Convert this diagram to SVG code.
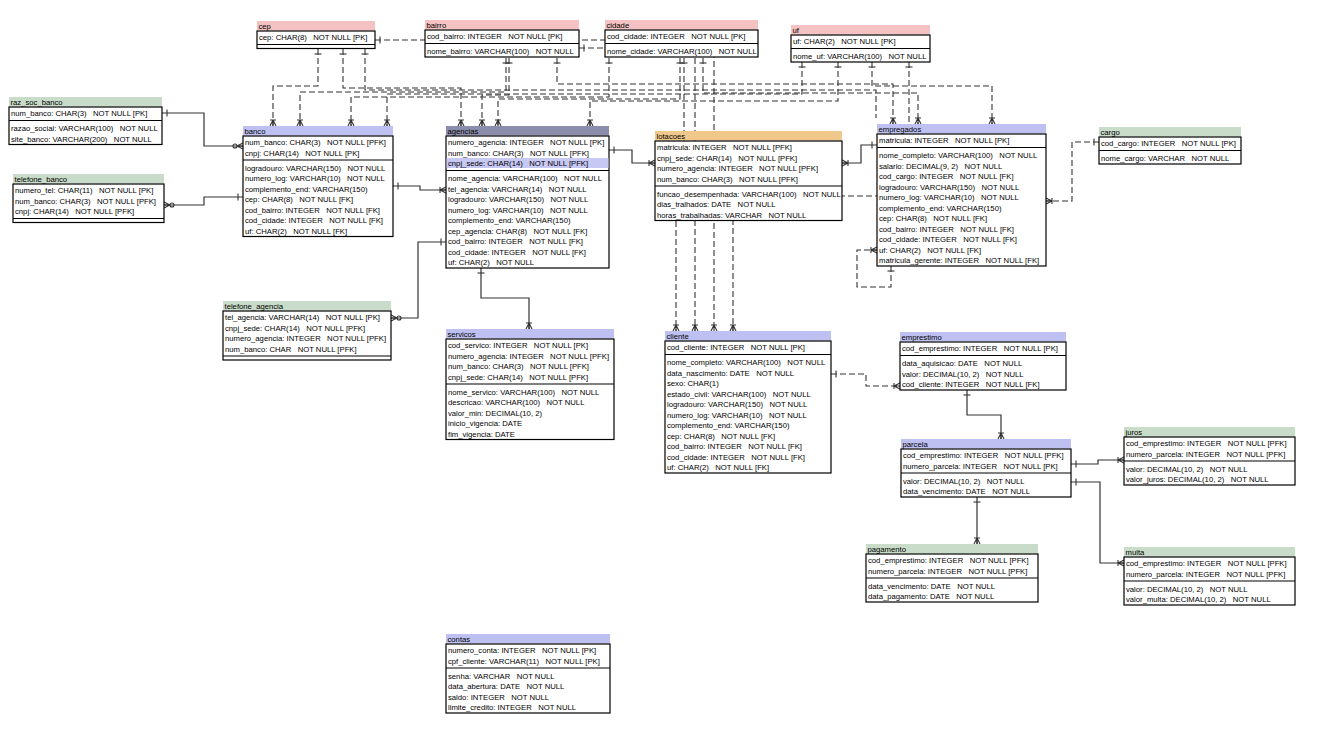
<svg xmlns="http://www.w3.org/2000/svg" width="1331" height="736" viewBox="0 0 1331 736">
<style>
text { font-family: "Liberation Sans", Arial, sans-serif; font-size: 7.7px; fill: #000; white-space: pre; }
.box { fill: #fff; stroke: #000; stroke-width: 1.2; }
.sep { stroke: #000; stroke-width: 1.2; }
.hp { fill: #f4c2c2; }
.hg { fill: #c9dcc9; }
.hl { fill: #bfc0f2; }
.hd { fill: #8c8cac; }
.ho { fill: #f0c88c; }
.hi { fill: #c8c8f5; }
.sl { fill: none; stroke: #333; stroke-width: 1.2; }
.dl { fill: none; stroke: #333; stroke-width: 1.1; stroke-dasharray: 6 3; }
.mk { fill: none; stroke: #333; stroke-width: 1.1; }
</style>
<defs>
<marker id="one" markerUnits="userSpaceOnUse" markerWidth="20" markerHeight="20" refX="0" refY="0" orient="auto" viewBox="-10 -10 20 20" overflow="visible">
<path class="mk" d="M5,-3.5 V3.5"/>
</marker>
<marker id="crow" markerUnits="userSpaceOnUse" markerWidth="20" markerHeight="20" refX="0" refY="0" orient="auto" viewBox="-10 -10 20 20" overflow="visible">
<path class="mk" d="M-6,0 L0,-3 M-6,0 L0,0 M-6,0 L0,3 M-6,-3 V3"/>
</marker>
<marker id="crowz" markerUnits="userSpaceOnUse" markerWidth="20" markerHeight="20" refX="0" refY="0" orient="auto" viewBox="-10 -10 20 20" overflow="visible">
<path class="mk" d="M-6,0 L0,-3 M-6,0 L0,0 M-6,0 L0,3"/>
<circle class="mk" cx="-8" cy="0" r="2"/>
</marker>
</defs>

<g id="connectors">
<path class="sl" d="M162,113 H204 V146 H243" marker-start="url(#one)" marker-end="url(#crowz)"/>
<path class="sl" d="M243,197 H204 V205 H164" marker-start="url(#one)" marker-end="url(#crowz)"/>
<path class="sl" d="M393,186 H420 V190 H446" marker-start="url(#one)" marker-end="url(#crow)"/>
<path class="sl" d="M446,242 H418 V318 H391" marker-start="url(#one)" marker-end="url(#crowz)"/>
<path class="sl" d="M481,268 V298 H529 V329" marker-start="url(#one)" marker-end="url(#crow)"/>
<path class="sl" d="M609,150 H632 V163 H655" marker-start="url(#one)" marker-end="url(#crow)"/>
<path class="sl" d="M877,145 H861 V163 H842" marker-start="url(#one)" marker-end="url(#crow)"/>
<path class="sl" d="M967,390 V415 H1001 V439" marker-start="url(#one)" marker-end="url(#crow)"/>
<path class="sl" d="M1071,464 H1098 V460 H1124" marker-start="url(#one)" marker-end="url(#crow)"/>
<path class="sl" d="M1071,482 H1100 V563 H1124" marker-start="url(#one)" marker-end="url(#crow)"/>
<path class="sl" d="M977,497 V544" marker-start="url(#one)" marker-end="url(#crow)"/>

<path class="dl" d="M1099,142 H1072 V201 H1046" marker-start="url(#one)" marker-end="url(#crow)"/>
<path class="dl" d="M891,266 V287 H857 V250 H877" marker-start="url(#one)" marker-end="url(#crow)"/>
<path class="dl" d="M831,374 H866 V386 H900" marker-start="url(#one)" marker-end="url(#crow)"/>

<path class="dl" d="M318,49 V86 H273 V126" marker-start="url(#one)" marker-end="url(#crow)"/>
<path class="dl" d="M343,49 V88 H461 V126" marker-start="url(#one)" marker-end="url(#crow)"/>
<path class="dl" d="M365,49 V90 H876 V118" marker-start="url(#one)"/>
<path class="dl" d="M375,40 H714 V331" marker-start="url(#one)" marker-end="url(#crow)"/>
<path class="dl" d="M506,58 V92 H300 V126" marker-start="url(#one)" marker-end="url(#crow)"/>
<path class="dl" d="M509,58 V95 H482 V126" marker-start="url(#one)" marker-end="url(#crow)"/>
<path class="dl" d="M557,58 V84 H893 V124" marker-start="url(#one)" marker-end="url(#crow)"/>
<path class="dl" d="M579,48 H695 V331" marker-start="url(#one)" marker-end="url(#crow)"/>
<path class="dl" d="M609,58 V97 H351 V126" marker-start="url(#one)" marker-end="url(#crow)"/>
<path class="dl" d="M680,58 V99 H498 V126" marker-start="url(#one)" marker-end="url(#crow)"/>
<path class="dl" d="M684,58 V200 H676 V331" marker-start="url(#one)" marker-end="url(#crow)"/>
<path class="dl" d="M703,58 V93 H918 V124" marker-start="url(#one)" marker-end="url(#crow)"/>
<path class="dl" d="M802,62 V94 H387 V126" marker-start="url(#one)" marker-end="url(#crow)"/>
<path class="dl" d="M838,62 V101 H590 V126" marker-start="url(#one)" marker-end="url(#crow)"/>
<path class="dl" d="M872,62 V86 H992 V124" marker-start="url(#one)" marker-end="url(#crow)"/>
<path class="dl" d="M909,62 V196 H733 V331" marker-start="url(#one)" marker-end="url(#crow)"/>
</g>

<g id="cep">
<rect class="hp" x="257" y="21" width="118" height="9.5"/>
<text x="258.5" y="28.5">cep</text>
<rect class="box" x="257" y="31" width="118" height="17.5"/>
<text x="259" y="40">cep: CHAR(8)   NOT NULL [PK]</text>
<line class="sep" x1="257" y1="44.5" x2="375" y2="44.5"/>
</g>

<g id="bairro">
<rect class="hp" x="425" y="20" width="154" height="9.5"/>
<text x="426.5" y="27.5">bairro</text>
<rect class="box" x="425" y="30" width="154" height="27"/>
<text x="427" y="39">cod_bairro: INTEGER   NOT NULL [PK]</text>
<line class="sep" x1="425" y1="43.5" x2="579" y2="43.5"/>
<text x="427" y="54">nome_bairro: VARCHAR(100)   NOT NULL</text>
</g>

<g id="cidade">
<rect class="hp" x="605" y="20" width="153" height="9.5"/>
<text x="606.5" y="27.5">cidade</text>
<rect class="box" x="605" y="30" width="153" height="27"/>
<text x="607" y="39">cod_cidade: INTEGER   NOT NULL [PK]</text>
<line class="sep" x1="605" y1="43.5" x2="758" y2="43.5"/>
<text x="607" y="54">nome_cidade: VARCHAR(100)   NOT NULL</text>
</g>

<g id="uf">
<rect class="hp" x="791" y="25" width="139" height="9.5"/>
<text x="792.5" y="32.5">uf</text>
<rect class="box" x="791" y="35" width="139" height="27"/>
<text x="793" y="44">uf: CHAR(2)   NOT NULL [PK]</text>
<line class="sep" x1="791" y1="48.5" x2="930" y2="48.5"/>
<text x="793" y="59">nome_uf: VARCHAR(100)   NOT NULL</text>
</g>

<g id="raz_soc_banco">
<rect class="hg" x="9" y="97" width="153" height="9.5"/>
<text x="10.5" y="104.5">raz_soc_banco</text>
<rect class="box" x="9" y="107" width="153" height="37.5"/>
<text x="11" y="116">num_banco: CHAR(3)   NOT NULL [PK]</text>
<line class="sep" x1="9" y1="120.5" x2="162" y2="120.5"/>
<text x="11" y="131">razao_social: VARCHAR(100)   NOT NULL</text>
<text x="11" y="141.5">site_banco: VARCHAR(200)   NOT NULL</text>
</g>

<g id="telefone_banco">
<rect class="hg" x="13" y="174" width="151" height="9.5"/>
<text x="14.5" y="181.5">telefone_banco</text>
<rect class="box" x="13" y="184" width="151" height="38.5"/>
<text x="15" y="193">numero_tel: CHAR(11)   NOT NULL [PK]</text>
<text x="15" y="203.5">num_banco: CHAR(3)   NOT NULL [PFK]</text>
<text x="15" y="214">cnpj: CHAR(14)   NOT NULL [PFK]</text>
<line class="sep" x1="13" y1="218.5" x2="164" y2="218.5"/>
</g>

<g id="banco">
<rect class="hl" x="243" y="126" width="150" height="9.5"/>
<text x="244.5" y="133.5">banco</text>
<rect class="box" x="243" y="136" width="150" height="100.5"/>
<text x="245" y="145">num_banco: CHAR(3)   NOT NULL [PFK]</text>
<text x="245" y="155.5">cnpj: CHAR(14)   NOT NULL [PK]</text>
<line class="sep" x1="243" y1="160" x2="393" y2="160"/>
<text x="245" y="170.5">logradouro: VARCHAR(150)   NOT NULL</text>
<text x="245" y="181">numero_log: VARCHAR(10)   NOT NULL</text>
<text x="245" y="191.5">complemento_end: VARCHAR(150)</text>
<text x="245" y="202">cep: CHAR(8)   NOT NULL [FK]</text>
<text x="245" y="212.5">cod_bairro: INTEGER   NOT NULL [FK]</text>
<text x="245" y="223">cod_cidade: INTEGER   NOT NULL [FK]</text>
<text x="245" y="233.5">uf: CHAR(2)   NOT NULL [FK]</text>
</g>

<g id="agencias">
<rect class="hd" x="446" y="126" width="163" height="9.5"/>
<text x="447.5" y="133.5">agencias</text>
<rect class="box" x="446" y="136" width="163" height="132"/>
<rect class="hi" x="446.6" y="158" width="161.8" height="10"/>
<text x="448" y="145">numero_agencia: INTEGER   NOT NULL [PK]</text>
<text x="448" y="155.5">num_banco: CHAR(3)   NOT NULL [PFK]</text>
<text x="448" y="166">cnpj_sede: CHAR(14)   NOT NULL [PFK]</text>
<line class="sep" x1="446" y1="170.5" x2="609" y2="170.5"/>
<text x="448" y="181">nome_agencia: VARCHAR(100)   NOT NULL</text>
<text x="448" y="191.5">tel_agencia: VARCHAR(14)   NOT NULL</text>
<text x="448" y="202">logradouro: VARCHAR(150)   NOT NULL</text>
<text x="448" y="212.5">numero_log: VARCHAR(10)   NOT NULL</text>
<text x="448" y="223">complemento_end: VARCHAR(150)</text>
<text x="448" y="233.5">cep_agencia: CHAR(8)   NOT NULL [FK]</text>
<text x="448" y="244">cod_bairro: INTEGER   NOT NULL [FK]</text>
<text x="448" y="254.5">cod_cidade: INTEGER   NOT NULL [FK]</text>
<text x="448" y="265">uf: CHAR(2)   NOT NULL</text>
</g>

<g id="lotacoes">
<rect class="ho" x="655" y="131" width="187" height="9.5"/>
<text x="656.5" y="138.5">lotacoes</text>
<rect class="box" x="655" y="141" width="187" height="79.5"/>
<text x="657" y="150">matricula: INTEGER   NOT NULL [PFK]</text>
<text x="657" y="160.5">cnpj_sede: CHAR(14)   NOT NULL [PFK]</text>
<text x="657" y="171">numero_agencia: INTEGER   NOT NULL [PFK]</text>
<text x="657" y="181.5">num_banco: CHAR(3)   NOT NULL [PFK]</text>
<line class="sep" x1="655" y1="186" x2="842" y2="186"/>
<text x="657" y="196.5">funcao_desempenhada: VARCHAR(100)   NOT NULL</text>
<text x="657" y="207">dias_tralhados: DATE   NOT NULL</text>
<text x="657" y="217.5">horas_trabalhadas: VARCHAR   NOT NULL</text>
</g>

<g id="empregados">
<rect class="hl" x="877" y="124" width="169" height="9.5"/>
<text x="878.5" y="131.5">empregados</text>
<rect class="box" x="877" y="134" width="169" height="132"/>
<text x="879" y="143">matricula: INTEGER   NOT NULL [PK]</text>
<line class="sep" x1="877" y1="147.5" x2="1046" y2="147.5"/>
<text x="879" y="158">nome_completo: VARCHAR(100)   NOT NULL</text>
<text x="879" y="168.5">salario: DECIMAL(9, 2)   NOT NULL</text>
<text x="879" y="179">cod_cargo: INTEGER   NOT NULL [FK]</text>
<text x="879" y="189.5">logradouro: VARCHAR(150)   NOT NULL</text>
<text x="879" y="200">numero_log: VARCHAR(10)   NOT NULL</text>
<text x="879" y="210.5">complemento_end: VARCHAR(150)</text>
<text x="879" y="221">cep: CHAR(8)   NOT NULL [FK]</text>
<text x="879" y="231.5">cod_bairro: INTEGER   NOT NULL [FK]</text>
<text x="879" y="242">cod_cidade: INTEGER   NOT NULL [FK]</text>
<text x="879" y="252.5">uf: CHAR(2)   NOT NULL [FK]</text>
<text x="879" y="263">matricula_gerente: INTEGER   NOT NULL [FK]</text>
</g>

<g id="cargo">
<rect class="hg" x="1099" y="127" width="142" height="9.5"/>
<text x="1100.5" y="134.5">cargo</text>
<rect class="box" x="1099" y="137" width="142" height="27"/>
<text x="1101" y="146">cod_cargo: INTEGER   NOT NULL [PK]</text>
<line class="sep" x1="1099" y1="150.5" x2="1241" y2="150.5"/>
<text x="1101" y="161">nome_cargo: VARCHAR   NOT NULL</text>
</g>

<g id="telefone_agencia">
<rect class="hg" x="223" y="301" width="168" height="9.5"/>
<text x="224.5" y="308.5">telefone_agencia</text>
<rect class="box" x="223" y="311" width="168" height="49"/>
<text x="225" y="320">tel_agencia: VARCHAR(14)   NOT NULL [PK]</text>
<text x="225" y="330.5">cnpj_sede: CHAR(14)   NOT NULL [PFK]</text>
<text x="225" y="341">numero_agencia: INTEGER   NOT NULL [PFK]</text>
<text x="225" y="351.5">num_banco: CHAR   NOT NULL [PFK]</text>
<line class="sep" x1="223" y1="356" x2="391" y2="356"/>
</g>

<g id="servicos">
<rect class="hl" x="446" y="329" width="168" height="9.5"/>
<text x="447.5" y="336.5">servicos</text>
<rect class="box" x="446" y="339" width="168" height="100.5"/>
<text x="448" y="348">cod_servico: INTEGER   NOT NULL [PK]</text>
<text x="448" y="358.5">numero_agencia: INTEGER   NOT NULL [PFK]</text>
<text x="448" y="369">num_banco: CHAR(3)   NOT NULL [PFK]</text>
<text x="448" y="379.5">cnpj_sede: CHAR(14)   NOT NULL [PFK]</text>
<line class="sep" x1="446" y1="384" x2="614" y2="384"/>
<text x="448" y="394.5">nome_servico: VARCHAR(100)   NOT NULL</text>
<text x="448" y="405">descricao: VARCHAR(100)   NOT NULL</text>
<text x="448" y="415.5">valor_min: DECIMAL(10, 2)</text>
<text x="448" y="426">inicio_vigencia: DATE</text>
<text x="448" y="436.5">fim_vigencia: DATE</text>
</g>

<g id="cliente">
<rect class="hl" x="665" y="331" width="166" height="9.5"/>
<text x="666.5" y="338.5">cliente</text>
<rect class="box" x="665" y="341" width="166" height="132"/>
<text x="667" y="350">cod_cliente: INTEGER   NOT NULL [PK]</text>
<line class="sep" x1="665" y1="354.5" x2="831" y2="354.5"/>
<text x="667" y="365">nome_completo: VARCHAR(100)   NOT NULL</text>
<text x="667" y="375.5">data_nascimento: DATE   NOT NULL</text>
<text x="667" y="386">sexo: CHAR(1)</text>
<text x="667" y="396.5">estado_civil: VARCHAR(100)   NOT NULL</text>
<text x="667" y="407">logradouro: VARCHAR(150)   NOT NULL</text>
<text x="667" y="417.5">numero_log: VARCHAR(10)   NOT NULL</text>
<text x="667" y="428">complemento_end: VARCHAR(150)</text>
<text x="667" y="438.5">cep: CHAR(8)   NOT NULL [FK]</text>
<text x="667" y="449">cod_bairro: INTEGER   NOT NULL [FK]</text>
<text x="667" y="459.5">cod_cidade: INTEGER   NOT NULL [FK]</text>
<text x="667" y="470">uf: CHAR(2)   NOT NULL [FK]</text>
</g>

<g id="emprestimo">
<rect class="hl" x="900" y="332" width="166" height="9.5"/>
<text x="901.5" y="339.5">emprestimo</text>
<rect class="box" x="900" y="342" width="166" height="48"/>
<text x="902" y="351">cod_emprestimo: INTEGER   NOT NULL [PK]</text>
<line class="sep" x1="900" y1="355.5" x2="1066" y2="355.5"/>
<text x="902" y="366">data_aquisicao: DATE   NOT NULL</text>
<text x="902" y="376.5">valor: DECIMAL(10, 2)   NOT NULL</text>
<text x="902" y="387">cod_cliente: INTEGER   NOT NULL [FK]</text>
</g>

<g id="parcela">
<rect class="hl" x="901" y="439" width="170" height="9.5"/>
<text x="902.5" y="446.5">parcela</text>
<rect class="box" x="901" y="449" width="170" height="48"/>
<text x="903" y="458">cod_emprestimo: INTEGER   NOT NULL [PFK]</text>
<text x="903" y="468.5">numero_parcela: INTEGER   NOT NULL [PK]</text>
<line class="sep" x1="901" y1="473" x2="1071" y2="473"/>
<text x="903" y="483.5">valor: DECIMAL(10, 2)   NOT NULL</text>
<text x="903" y="494">data_vencimento: DATE   NOT NULL</text>
</g>

<g id="juros">
<rect class="hg" x="1124" y="427" width="171" height="9.5"/>
<text x="1125.5" y="434.5">juros</text>
<rect class="box" x="1124" y="437" width="171" height="48"/>
<text x="1126" y="446">cod_emprestimo: INTEGER   NOT NULL [PFK]</text>
<text x="1126" y="456.5">numero_parcela: INTEGER   NOT NULL [PFK]</text>
<line class="sep" x1="1124" y1="461" x2="1295" y2="461"/>
<text x="1126" y="471.5">valor: DECIMAL(10, 2)   NOT NULL</text>
<text x="1126" y="482">valor_juros: DECIMAL(10, 2)   NOT NULL</text>
</g>

<g id="multa">
<rect class="hg" x="1124" y="547" width="171" height="9.5"/>
<text x="1125.5" y="554.5">multa</text>
<rect class="box" x="1124" y="557" width="171" height="48"/>
<text x="1126" y="566">cod_emprestimo: INTEGER   NOT NULL [PFK]</text>
<text x="1126" y="576.5">numero_parcela: INTEGER   NOT NULL [PFK]</text>
<line class="sep" x1="1124" y1="581" x2="1295" y2="581"/>
<text x="1126" y="591.5">valor: DECIMAL(10, 2)   NOT NULL</text>
<text x="1126" y="602">valor_multa: DECIMAL(10, 2)   NOT NULL</text>
</g>

<g id="pagamento">
<rect class="hg" x="866" y="544" width="172" height="9.5"/>
<text x="867.5" y="551.5">pagamento</text>
<rect class="box" x="866" y="554" width="172" height="48"/>
<text x="868" y="563">cod_emprestimo: INTEGER   NOT NULL [PFK]</text>
<text x="868" y="573.5">numero_parcela: INTEGER   NOT NULL [PFK]</text>
<line class="sep" x1="866" y1="578" x2="1038" y2="578"/>
<text x="868" y="588.5">data_vencimento: DATE   NOT NULL</text>
<text x="868" y="599">data_pagamento: DATE   NOT NULL</text>
</g>

<g id="contas">
<rect class="hl" x="446" y="634" width="164" height="9.5"/>
<text x="447.5" y="641.5">contas</text>
<rect class="box" x="446" y="644" width="164" height="69"/>
<text x="448" y="653">numero_conta: INTEGER   NOT NULL [PK]</text>
<text x="448" y="663.5">cpf_cliente: VARCHAR(11)   NOT NULL [PK]</text>
<line class="sep" x1="446" y1="668" x2="610" y2="668"/>
<text x="448" y="678.5">senha: VARCHAR   NOT NULL</text>
<text x="448" y="689">data_abertura: DATE   NOT NULL</text>
<text x="448" y="699.5">saldo: INTEGER   NOT NULL</text>
<text x="448" y="710">limite_credito: INTEGER   NOT NULL</text>
</g>
</svg>
